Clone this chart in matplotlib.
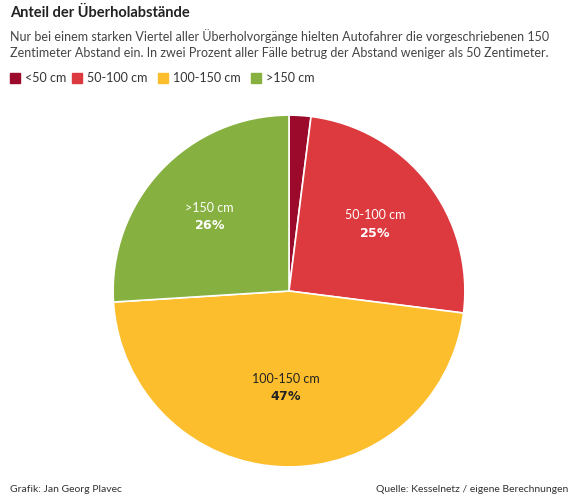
import numpy as np
import matplotlib
matplotlib.use("Agg")
import matplotlib.pyplot as plt

plt.rcParams['font.family'] = ['Lato', 'DejaVu Sans']

categories = ['<50 cm', '50-100 cm', '100-150 cm', '>150 cm']
shares = [2, 25, 47, 26]
colors = ['#9b0a2a', '#dc3a3f', '#fdbe2d', '#86b040']
label_colors = ['white', 'white', '#222222', 'white']

fig = plt.figure(figsize=(5.78, 5.04), dpi=100)

fig.text(10 / 578, 1 - 13 / 504, 'Anteil der Überholabstände', fontsize=10.5,
         fontweight='bold', color='#222222', va='center')
fig.text(10 / 578, 1 - 44 / 504,
         'Nur bei einem starken Viertel aller Überholvorgänge hielten Autofahrer die vorgeschriebenen 150\n'
         'Zentimeter Abstand ein. In zwei Prozent aller Fälle betrug der Abstand weniger als 50 Zentimeter.',
         fontsize=9, color='#444444', va='center', linespacing=1.35)

# legend
x = 10
for cat, col in zip(categories, colors):
    fig.patches.append(plt.Rectangle((x / 578, 1 - 83 / 504), 10 / 578, 10 / 504,
                                     transform=fig.transFigure, color=col))
    t = fig.text((x + 15) / 578, 1 - 78 / 504, cat, fontsize=9, color='#333333', va='center')
    x += {'<50 cm': 62, '50-100 cm': 86, '100-150 cm': 93, '>150 cm': 70}[cat]

ax = fig.add_axes([0.5 - 0.3045, 0.4226 - 0.349, 0.609, 0.698])
wedges, _ = ax.pie(shares, colors=colors, startangle=90, counterclock=False,
                   wedgeprops=dict(edgecolor='white', linewidth=1.2))
ax.set_aspect('equal')
ax.set_xlim(-1, 1)
ax.set_ylim(-1, 1)

for w, cat, s, lc in zip(wedges, categories, shares, label_colors):
    if s < 5:
        continue
    ang = np.deg2rad((w.theta1 + w.theta2) / 2)
    r = 0.62 if s != 47 else 0.55
    ax.text(r * np.cos(ang), r * np.sin(ang), f'{cat}\n$\\bf{{{s}\\%}}$', ha='center',
            va='center', fontsize=9, color=lc, linespacing=1.4)

fig.text(10 / 578, 1 - 490 / 504, 'Grafik: Jan Georg Plavec', fontsize=7.5, color='#333333', va='center')
fig.text(568 / 578, 1 - 490 / 504, 'Quelle: Kesselnetz / eigene Berechnungen', fontsize=7.5,
         color='#333333', va='center', ha='right')

fig.savefig('out.png', dpi=100)
